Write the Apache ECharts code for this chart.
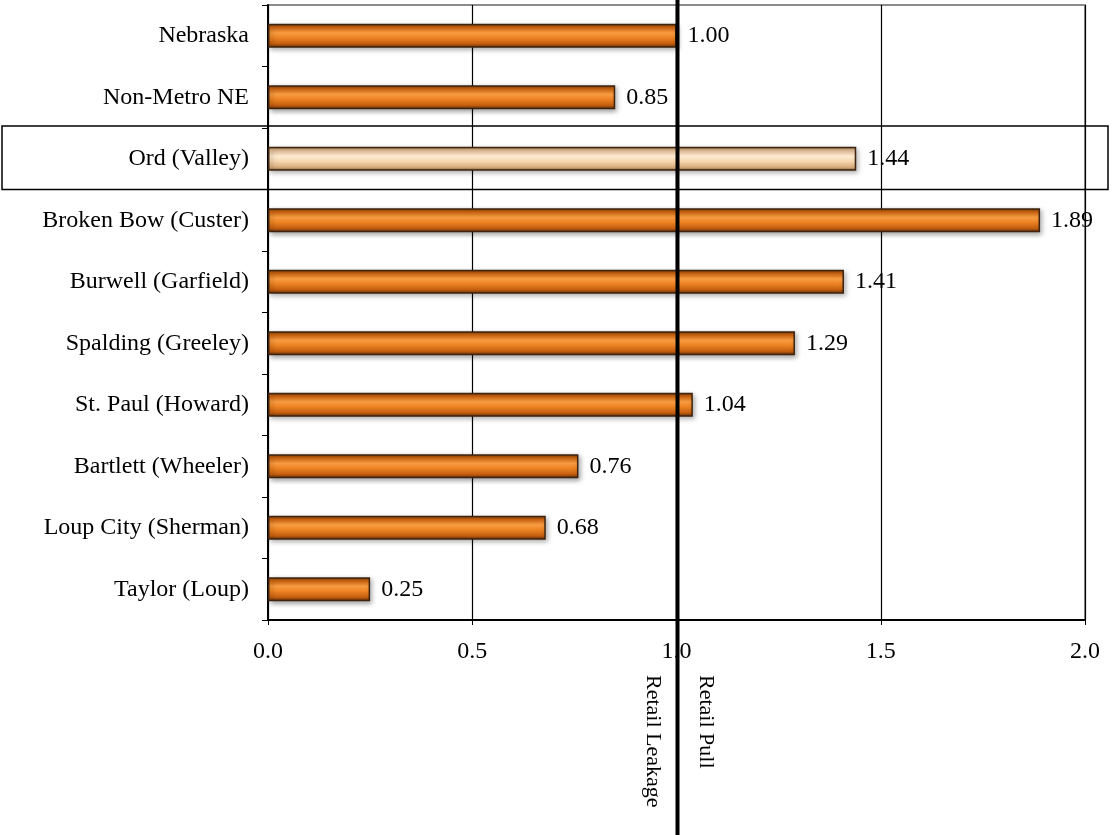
<!DOCTYPE html>
<html><head><meta charset="utf-8">
<script src="https://cdn.jsdelivr.net/npm/echarts@6/dist/echarts.min.js"></script>
<style>html,body{margin:0;padding:0;background:#fff}#c{width:1112px;height:835px}</style>
</head><body><div id="c"></div>
<script>
const categories = ["Nebraska","Non-Metro NE","Ord (Valley)","Broken Bow (Custer)","Burwell (Garfield)","Spalding (Greeley)","St. Paul (Howard)","Bartlett (Wheeler)","Loup City (Sherman)","Taylor (Loup)"];
const values = [1.00,0.85,1.44,1.89,1.41,1.29,1.04,0.76,0.68,0.25];
const highlight = "Ord (Valley)";
const xTicks = [0,0.5,1.0,1.5,2.0];
const refValue = 1.0;
const leftNote = "Retail Leakage";
const rightNote = "Retail Pull";

const FONT = '"Liberation Serif","Times New Roman",serif';
const orange = new echarts.graphic.LinearGradient(0,0,0,1,[
  {offset:0,color:'#6e360a'},{offset:0.14,color:'#d0650f'},{offset:0.38,color:'#f89c42'},
  {offset:0.58,color:'#ee8424'},{offset:0.84,color:'#c45e10'},{offset:1,color:'#5e2e08'}]);
const peach = new echarts.graphic.LinearGradient(0,0,0,1,[
  {offset:0,color:'#8a6a48'},{offset:0.14,color:'#e6bf94'},{offset:0.4,color:'#fdebd2'},
  {offset:0.6,color:'#f7d7b0'},{offset:0.86,color:'#d9ad7c'},{offset:1,color:'#7a5c3c'}]);

const chart = echarts.init(document.getElementById('c'));
chart.setOption({
  animation:false,
  grid:{left:268,right:27,top:5,bottom:215,show:true,borderColor:'#8c8c8c',borderWidth:2},
  xAxis:{type:'value',min:0,max:2,interval:0.5,
    axisLine:{show:true,lineStyle:{color:'#000',width:2}},
    axisTick:{show:true,length:5,lineStyle:{color:'#000'}},
    axisLabel:{formatter:v=>v.toFixed(1),fontFamily:FONT,fontSize:24,color:'#000',margin:20},
    splitLine:{show:true,lineStyle:{color:'#000',width:1.2}}},
  yAxis:{type:'category',data:categories,inverse:true,
    axisLine:{show:true,lineStyle:{color:'#000',width:2}},
    axisTick:{show:true,length:6,alignWithLabel:false,lineStyle:{color:'#000'}},
    axisLabel:{fontFamily:FONT,fontSize:24,color:'#000',margin:19},
    splitLine:{show:false}},
  series:[{type:'bar',barWidth:24,
    data:values.map((v,i)=>({value:v,itemStyle:{color:categories[i]===highlight?peach:orange}})),
    itemStyle:{borderColor:'#3e2410',borderWidth:1.5,shadowColor:'rgba(0,0,0,0.35)',shadowBlur:5,shadowOffsetX:2,shadowOffsetY:2},
    label:{show:true,position:'right',distance:11,formatter:p=>p.value.toFixed(2),fontFamily:FONT,fontSize:24,color:'#000'},
    z:3}]
});

const x1 = chart.convertToPixel({xAxisIndex:0},refValue);
const hi = categories.indexOf(highlight);
const yc = chart.convertToPixel({yAxisIndex:0},highlight);
const yNext = chart.convertToPixel({yAxisIndex:0},categories[hi+1]);
const band = yNext-yc;
chart.setOption({graphic:[
  {type:'rect',shape:{x:2,y:yc-band/2-2,width:1106,height:band+2},style:{fill:'none',stroke:'#000',lineWidth:1.5},z:10,silent:true},
  {type:'line',shape:{x1:x1+1,y1:0,x2:x1+1,y2:835},style:{stroke:'#000',lineWidth:4},z:11},
  {type:'text',x:x1-13,y:675,rotation:-Math.PI/2,style:{text:leftNote,font:'22px '+FONT,fill:'#000',align:'left',verticalAlign:'top'},z:11},
  {type:'text',x:x1+18,y:675,rotation:-Math.PI/2,style:{text:rightNote,font:'22px '+FONT,fill:'#000',align:'left',verticalAlign:'bottom'},z:11}
]});
</script></body></html>
